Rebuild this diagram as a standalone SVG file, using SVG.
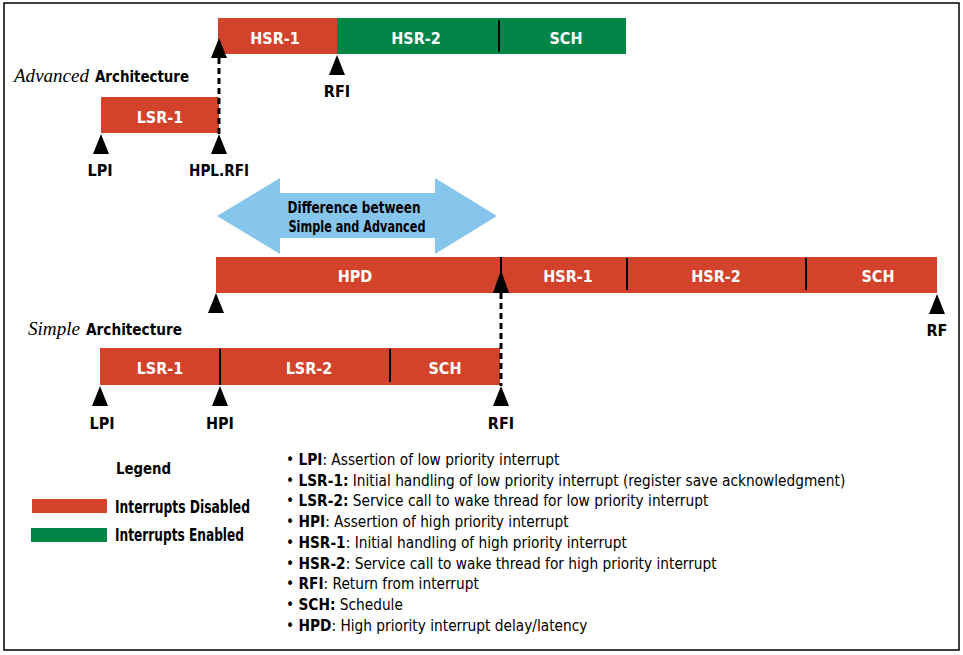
<svg xmlns="http://www.w3.org/2000/svg" width="963" height="655" viewBox="0 0 963 655">
<defs>
<style>
.red{fill:#D3432B}
.green{fill:#008547}
.blue{fill:#86C5EC}
.div{stroke:#000;stroke-width:2}
.dash{stroke:#000;stroke-width:3;stroke-dasharray:6 4;fill:none}
.tri{fill:#000}
.c{font-family:"Liberation Sans Narrow","DejaVu Sans Condensed","Liberation Sans",sans-serif;font-stretch:condensed;font-weight:bold;font-size:16px}
.w{fill:#fff;text-anchor:middle}
.k{fill:#000;text-anchor:middle}
.it{font-family:"Liberation Serif","Times New Roman",serif;font-style:italic;font-size:18px;fill:#000}
.leg{font-family:"Liberation Sans Narrow","DejaVu Sans Condensed","Liberation Sans",sans-serif;font-stretch:condensed;font-size:16px;fill:#000}
.b{font-weight:bold}
</style>
</defs>
<rect x="4" y="3" width="955" height="647" fill="#fff" stroke="#000" stroke-width="1.5"/>

<g id="advanced-title">
<text class="it" x="14" y="82" textLength="75" lengthAdjust="spacingAndGlyphs">Advanced</text>
<text class="c" x="95" y="82" textLength="94" lengthAdjust="spacingAndGlyphs">Architecture</text>
</g>
<g id="adv-hsr1"><rect class="red" x="218" y="18" width="119" height="36"/><text class="c w" x="275" y="44">HSR-1</text></g>
<g id="adv-hsr2"><rect class="green" x="337" y="18" width="163" height="36"/><text class="c w" x="416" y="44">HSR-2</text></g>
<g id="adv-sch"><rect class="green" x="499" y="18" width="127" height="36"/><line class="div" x1="499" y1="20" x2="499" y2="52"/><text class="c w" x="566" y="44">SCH</text></g>
<g id="adv-lsr1"><rect class="red" x="101" y="97" width="118" height="36"/><text class="c w" x="160" y="123">LSR-1</text></g>
<g id="adv-rfi"><polygon class="tri" points="337,55 329,75 345,75"/><text class="c k" x="337" y="97">RFI</text></g>
<g id="adv-lpi"><polygon class="tri" points="101,134 93,154 109,154"/><text class="c k" x="100" y="176">LPI</text></g>
<g id="adv-hplrfi"><polygon class="tri" points="219,134 211,154 227,154"/><text class="c k" x="219" y="176" textLength="60" lengthAdjust="spacingAndGlyphs">HPL.RFI</text></g>

<g id="difference">
<polygon class="blue" points="217,216 280,178 280,193 435,193 435,178 497,216 435,254 435,238 280,238 280,254"/>
<text class="c k" x="354" y="213" style="font-size:15px" textLength="133" lengthAdjust="spacingAndGlyphs">Difference between</text>
<text class="c k" x="357" y="232" style="font-size:15px" textLength="137" lengthAdjust="spacingAndGlyphs">Simple and Advanced</text>
</g>

<g id="hpd"><rect class="red" x="216" y="257" width="285" height="36"/><text class="c w" x="355" y="282">HPD</text></g>
<g id="sim-hsr1"><rect class="red" x="501" y="257" width="126" height="36"/><text class="c w" x="568" y="282">HSR-1</text></g>
<g id="sim-hsr2"><rect class="red" x="627" y="257" width="179" height="36"/><line class="div" x1="627" y1="258" x2="627" y2="290"/><text class="c w" x="716" y="282">HSR-2</text></g>
<g id="sim-sch2"><rect class="red" x="806" y="257" width="131" height="36"/><line class="div" x1="806" y1="258" x2="806" y2="290"/><text class="c w" x="878" y="282">SCH</text></g>
<g id="hpd-start"><polygon class="tri" points="216,293 208,313 224,313"/></g>
<g id="rf"><polygon class="tri" points="937,294 929,314 945,314"/><text class="c k" x="937" y="336">RF</text></g>

<g id="simple-title">
<text class="it" x="28" y="335" textLength="52" lengthAdjust="spacingAndGlyphs">Simple</text>
<text class="c" x="86" y="335" textLength="96" lengthAdjust="spacingAndGlyphs">Architecture</text>
</g>
<g id="sim-lsr1"><rect class="red" x="100" y="348" width="120" height="37"/><text class="c w" x="160" y="374">LSR-1</text></g>
<g id="sim-lsr2"><rect class="red" x="220" y="348" width="170" height="37"/><line class="div" x1="220" y1="349" x2="220" y2="385"/><text class="c w" x="309" y="374">LSR-2</text></g>
<g id="sim-sch"><rect class="red" x="390" y="348" width="110" height="37"/><line class="div" x1="390" y1="349" x2="390" y2="382"/><text class="c w" x="445" y="374">SCH</text></g>
<g id="sim-lpi"><polygon class="tri" points="100,386 92,406 108,406"/><text class="c k" x="102" y="429">LPI</text></g>
<g id="sim-hpi"><polygon class="tri" points="220,386 212,406 228,406"/><text class="c k" x="220" y="429">HPI</text></g>
<g id="sim-rfi"><polygon class="tri" points="501,386 493,406 509,406"/><text class="c k" x="501" y="429">RFI</text></g>

<g id="connectors">
<polygon class="tri" points="219,38 211,58 227,58"/>
<line class="dash" x1="219" y1="58" x2="219" y2="134"/>
<line class="div" x1="501" y1="257" x2="501" y2="292"/>
<polygon class="tri" points="501,270 493,293 509,293"/>
<line class="dash" x1="501" y1="293" x2="501" y2="386"/>
</g>

<g id="legend">
<text class="c" x="116" y="474" textLength="55" lengthAdjust="spacingAndGlyphs">Legend</text>
<rect class="red" x="32" y="499" width="75" height="14"/>
<text class="c" x="115" y="513" style="font-size:17px" textLength="135" lengthAdjust="spacingAndGlyphs">Interrupts Disabled</text>
<rect class="green" x="31" y="528" width="76" height="14"/>
<text class="c" x="115" y="541" style="font-size:17px" textLength="129" lengthAdjust="spacingAndGlyphs">Interrupts Enabled</text>
</g>

<g id="definitions" class="leg" transform="translate(286,0) scale(0.955,1)">
<text x="0" y="465">• <tspan class="b">LPI</tspan>: Assertion of low priority interrupt</text>
<text x="0" y="486">• <tspan class="b">LSR-1:</tspan> Initial handling of low priority interrupt (register save acknowledgment)</text>
<text x="0" y="506">• <tspan class="b">LSR-2:</tspan> Service call to wake thread for low priority interrupt</text>
<text x="0" y="527">• <tspan class="b">HPI</tspan>: Assertion of high priority interrupt</text>
<text x="0" y="548">• <tspan class="b">HSR-1</tspan>: Initial handling of high priority interrupt</text>
<text x="0" y="569">• <tspan class="b">HSR-2</tspan>: Service call to wake thread for high priority interrupt</text>
<text x="0" y="589">• <tspan class="b">RFI</tspan>: Return from interrupt</text>
<text x="0" y="610">• <tspan class="b">SCH:</tspan> Schedule</text>
<text x="0" y="631">• <tspan class="b">HPD</tspan>: High priority interrupt delay/latency</text>
</g>
</svg>
